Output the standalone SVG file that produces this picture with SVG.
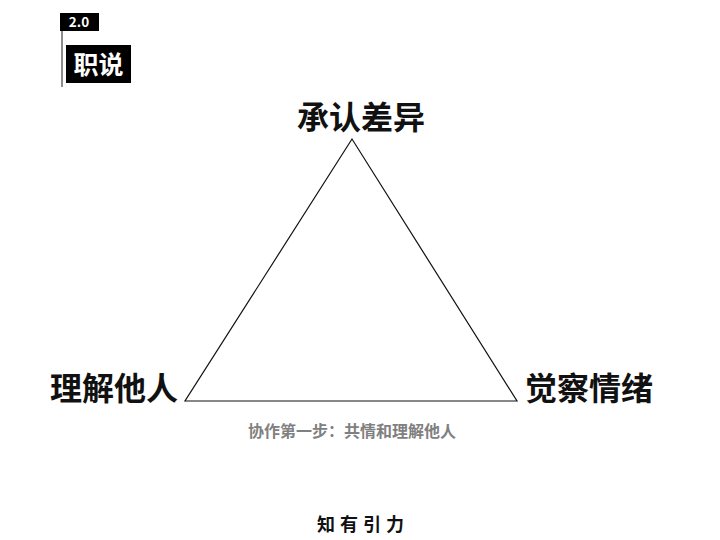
<svg xmlns="http://www.w3.org/2000/svg" width="720" height="540" viewBox="0 0 720 540">
<style>
.big{font-family:"Noto Sans CJK SC","Noto Sans",sans-serif;font-size:32px;font-weight:700;fill:#111}
.hdr{font-family:"Noto Sans CJK SC","Liberation Sans",sans-serif;fill:#fff;font-weight:700}
</style>
<rect width="720" height="540" fill="#fff"/>
<g id="header">
<line x1="62" y1="13" x2="62" y2="87" stroke="#666" stroke-width="1.5"/>
<rect x="60" y="13" width="39" height="18" fill="#000"/>
<text class="hdr" x="79" y="27" font-size="13.500" text-anchor="middle" font-family="Liberation Sans">2.0</text>
<rect x="66" y="45" width="65" height="38" fill="#000"/>
<text class="hdr" x="98.500" y="74" font-size="25" text-anchor="middle">职说</text>
</g>
<g id="connectors">
<polygon points="352,139 185,401 517,401" fill="none" stroke="#111" stroke-width="1.2"/>
</g>
<g id="node-top"><text class="big" x="361" y="129" text-anchor="middle">承认差异</text></g>
<g id="node-left"><text class="big" x="114" y="400" text-anchor="middle">理解他人</text></g>
<g id="node-right"><text class="big" x="589" y="400" text-anchor="middle">觉察情绪</text></g>
<g id="caption"><text x="352" y="437" text-anchor="middle" font-family="Noto Sans CJK SC,sans-serif" font-size="16" font-weight="700" fill="#808080">协作第一步：共情和理解他人</text></g>
<g id="footer"><text x="363" y="531" text-anchor="middle" font-family="Noto Sans CJK SC,sans-serif" font-size="18" font-weight="700" letter-spacing="5" fill="#111">知有引力</text></g>
</svg>
